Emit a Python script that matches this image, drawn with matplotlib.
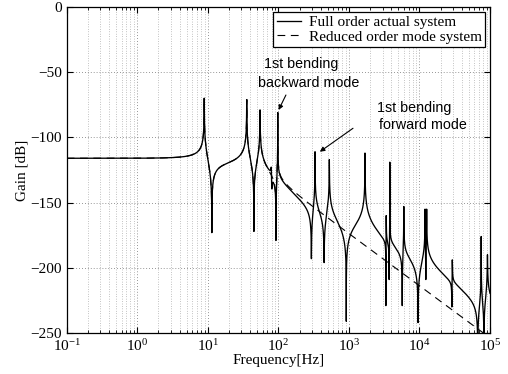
import numpy as np
import matplotlib as mpl
mpl.use('Agg')
import matplotlib.pyplot as plt
from matplotlib.ticker import FixedLocator, NullFormatter, MultipleLocator, LogFormatterMathtext

plt.rcParams['font.family'] = ['Liberation Serif', 'DejaVu Serif']
plt.rcParams['mathtext.fontset'] = 'stix'
plt.rcParams['font.size'] = 11

# values
dc_gain_db = -116

# full order system: resonance peaks and anti-resonance dips
full_pole_hz = [8.9, 35.6, 55, 79.5, 98, 331, 528, 1690, 3380, 3800, 6000,
                12000, 12650, 29200, 75000, 92000]
full_peak_db = [-70, -71, -79, -124, -81, -111, -117, -112, -160, -119, -153,
                -155, -155, -194, -176, -190]
full_zero_hz = [11.4, 45, 80.5, 92.5, 294, 445, 918, 3340, 3720, 5700, 9550,
                12300, 28800, 67000, 82000]
full_dip_db = [-173, -172, -139, -179, -193, -196, -241, -229, -209, -229, -242,
               -209, -230, -270, -270]

# reduced order model
red_pole_hz = [8.9, 35.6, 55, 98]
red_peak_db = [-70, -71, -79, -81]
red_zero_hz = [11.4, 45, 92.5]
red_dip_db = [-173, -172, -172]

labels = ['Full order actual system', 'Reduced order mode system']
decades = [1e-1, 1e0, 1e1, 1e2, 1e3, 1e4, 1e5]


def response(f, poles, zp, zeros, zz, k):
    f = np.asarray(f, dtype=float)
    h = np.full(f.shape, k, dtype=complex)
    for z, d in zip(zeros, zz):
        h = h * (1 - (f / z) ** 2 + 2j * d * f / z)
    for p, d in zip(poles, zp):
        h = h / (1 - (f / p) ** 2 + 2j * d * f / p)
    return 20 * np.log10(np.abs(h))


def fit_damping(poles, peaks, zeros, dips, k):
    # tune each mode's damping so peaks / dips hit the read-off levels
    poles, zeros = np.array(poles, float), np.array(zeros, float)
    peaks, dips = np.array(peaks, float), np.array(dips, float)
    zp = np.full(len(poles), 0.01)
    zz = np.full(len(zeros), 0.01)
    for _ in range(80):
        zp = zp * 10 ** ((response(poles, poles, zp, zeros, zz, k) - peaks) / 20)
        zz = zz * 10 ** ((dips - response(zeros, poles, zp, zeros, zz, k)) / 20)
    return zp, zz


k = 10 ** (dc_gain_db / 20)
freq = np.unique(np.concatenate([np.logspace(-1, 5, 60000),
                                 full_pole_hz, full_zero_hz]))

zp, zz = fit_damping(full_pole_hz, full_peak_db, full_zero_hz, full_dip_db, k)
full_db = response(freq, full_pole_hz, zp, full_zero_hz, zz, k)

rzp, rzz = fit_damping(red_pole_hz, red_peak_db, red_zero_hz, red_dip_db, k)
red_db = response(freq, red_pole_hz, rzp, red_zero_hz, rzz, k)

fig = plt.figure(figsize=(5.08, 3.74), dpi=100)
ax = fig.add_axes([0.1313, 0.1096, 0.8333, 0.8717])

ax.semilogx(freq, full_db, color='k', lw=0.95, label=labels[0])
ax.semilogx(freq, red_db, color='k', lw=0.8, dashes=(7, 5), label=labels[1])

ax.set_xlim(1e-1, 1e5)
ax.set_ylim(-250, 0)
ax.yaxis.set_major_locator(MultipleLocator(50))
ax.xaxis.set_major_locator(FixedLocator(decades))
ax.xaxis.set_major_formatter(LogFormatterMathtext())
minor = [m * d for d in decades[:-1] for m in range(2, 10)]
ax.xaxis.set_minor_locator(FixedLocator(minor))
ax.xaxis.set_minor_formatter(NullFormatter())

ax.grid(True, which='major', linestyle=(0, (1, 2.5)), color='0.45', lw=0.6)
ax.grid(True, which='minor', axis='x', linestyle=(0, (1, 2.5)), color='0.55', lw=0.5)
ax.tick_params(which='both', direction='in', top=True, right=True, labelsize=11)
ax.tick_params(which='major', length=4)
ax.tick_params(which='minor', length=2)
for s in ax.spines.values():
    s.set_linewidth(0.9)

ax.set_xlabel('Frequency[Hz]', fontsize=11, labelpad=0)
ax.set_ylabel('Gain [dB]', fontsize=11, labelpad=1)

leg = ax.legend(loc='upper right', fancybox=False, framealpha=1, edgecolor='k',
                fontsize=11, handlelength=1.6, handletextpad=0.5,
                borderpad=0.2, labelspacing=0.05, borderaxespad=0.35)
leg.get_frame().set_linewidth(0.9)

sans = ['Liberation Sans', 'DejaVu Sans']
ax.text(209, -47, '1st bending', family=sans, fontsize=10.3, ha='center', va='baseline')
ax.text(270, -61.6, 'backward mode', family=sans, fontsize=10.3, ha='center', va='baseline')
ax.annotate('', xy=(100.7, -79), xytext=(128, -67.5),
            arrowprops=dict(arrowstyle='-|>', color='k', lw=0.8, mutation_scale=7,
                            shrinkA=0, shrinkB=0))
ax.text(8310, -80.3, '1st bending', family=sans, fontsize=10.3, ha='center', va='baseline')
ax.text(11320, -93.8, 'forward mode', family=sans, fontsize=10.3, ha='center', va='baseline')
ax.annotate('', xy=(387, -111), xytext=(1143, -93),
            arrowprops=dict(arrowstyle='-|>', color='k', lw=0.8, mutation_scale=7,
                            shrinkA=0, shrinkB=0))

fig.savefig('out.png', dpi=100)
